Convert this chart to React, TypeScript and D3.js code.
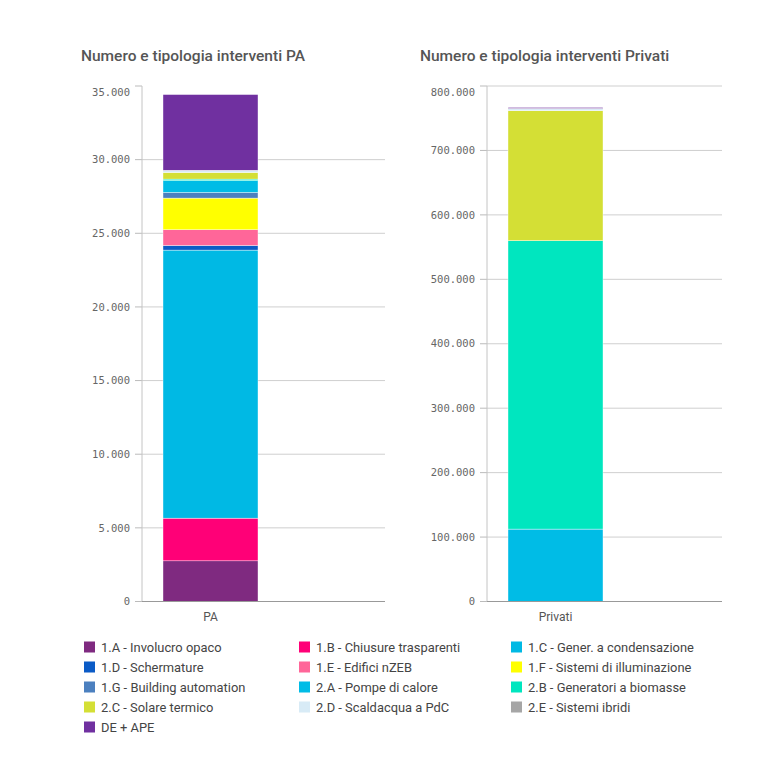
import * as d3 from "d3";

const seriesNames = [
  "1.A - Involucro opaco",
  "1.B - Chiusure trasparenti",
  "1.C - Gener. a condensazione",
  "1.D - Schermature",
  "1.E - Edifici nZEB",
  "1.F - Sistemi di illuminazione",
  "1.G - Building automation",
  "2.A - Pompe di calore",
  "2.B - Generatori a biomasse",
  "2.C - Solare termico",
  "2.D - Scaldacqua a PdC",
  "2.E - Sistemi ibridi",
  "DE + APE",
];

const seriesColors = [
  "#7f2a80", "#ff0077", "#00b9e4", "#0b5bc6", "#ff6699", "#ffff00", "#4c80bf",
  "#00bce6", "#00e6bf", "#d4df35", "#d8ebf6", "#a6a6a6", "#7030a0",
];

const paValues = [2760, 2900, 18200, 310, 1070, 2150, 380, 810, 100, 450, 130, 20, 5140];
const privatiValues = [0, 0, 0, 0, 0, 0, 0, 112400, 447600, 201600, 3200, 400, 1500];

const paTicks = [0, 5000, 10000, 15000, 20000, 25000, 30000, 35000];
const privatiTicks = [0, 100000, 200000, 300000, 400000, 500000, 600000, 700000, 800000];

const fmt = d3
  .formatLocale({ decimal: ",", thousands: ".", grouping: [3], currency: ["€", ""] })
  .format(",");

const W = 775;
const H = 769;
const plotTop = 86;
const plotBottom = 601.5;

interface StackProps {
  title: string;
  category: string;
  values: number[];
  ticks: number[];
  left: number;
  right: number;
  titleX: number;
  topGrid: boolean;
}

function StackChart({ title, category, values, ticks, left, right, titleX, topGrid }: StackProps) {
  const max = ticks[ticks.length - 1];
  const y = d3.scaleLinear([0, max], [plotBottom, plotTop]);
  const x = d3.scaleBand([category], [left + 21, left + 116]).padding(0);

  const row: Record<string, number> = {};
  seriesNames.forEach((n, i) => (row[n] = values[i]));
  const stacked = d3.stack<Record<string, number>>().keys(seriesNames)([row]);

  return (
    <g>
      <text
        x={titleX}
        y={61}
        fontFamily="Roboto, 'Open Sans', sans-serif"
        fontWeight={500}
        fontSize={15.5}
        fill="#555"
      >
        {title}
      </text>
      {ticks.map((t) => (
        <g key={t}>
          {(t > 0 && (t < max || topGrid)) && (
            <line x1={left} x2={right} y1={y(t)} y2={y(t)} stroke="#cfcfcf" />
          )}
          <line x1={left - 7} x2={left} y1={y(t)} y2={y(t)} stroke="#bbb" />
          <text
            x={left - 12}
            y={y(t) + (t === max ? 6 : 0)}
            dy="0.35em"
            textAnchor="end"
            fontFamily="'DejaVu Sans Mono', monospace"
            fontSize={10.5}
            fill="#666"
          >
            {fmt(t)}
          </text>
        </g>
      ))}
      <line x1={left} x2={left} y1={plotTop} y2={plotBottom} stroke="#c4c4c4" />
      {stacked.map((s, i) =>
        s.map((d, j) =>
          d[1] - d[0] > 0 ? (
            <rect
              key={`${i}-${j}`}
              x={x(category)}
              width={x.bandwidth()}
              y={y(d[1])}
              height={y(d[0]) - y(d[1])}
              fill={seriesColors[i]}
              stroke="#fff"
              strokeWidth={0.4}
            />
          ) : null,
        ),
      )}
      <line x1={left} x2={right} y1={plotBottom} y2={plotBottom} stroke="#999" />
      <text
        x={(x(category) ?? 0) + x.bandwidth() / 2}
        y={621}
        textAnchor="middle"
        fontFamily="Roboto, sans-serif"
        fontSize={12}
        fill="#555"
      >
        {category}
      </text>
    </g>
  );
}

export default function App() {
  const cols = [84, 299, 511];
  return (
    <svg width={W} height={H} style={{ position: "absolute", left: 0, top: 0 }}>
      <rect width={W} height={H} fill="#fff" />
      <StackChart
        title="Numero e tipologia interventi PA"
        category="PA"
        values={paValues}
        ticks={paTicks}
        left={142}
        right={385}
        titleX={81}
        topGrid={false}
      />
      <StackChart
        title="Numero e tipologia interventi Privati"
        category="Privati"
        values={privatiValues}
        ticks={privatiTicks}
        left={487}
        right={722}
        titleX={420}
        topGrid={true}
      />
      <g fontFamily="Roboto, 'Open Sans', sans-serif" fontSize={12.9} fill="#444">
        {seriesNames.map((n, i) => {
          const cx = cols[i % 3];
          const cy = 647 + Math.floor(i / 3) * 20;
          return (
            <g key={n}>
              <rect x={cx} y={cy - 5.5} width={11} height={11} fill={seriesColors[i]} />
              <text x={cx + 17} y={cy} dy="0.35em">
                {n}
              </text>
            </g>
          );
        })}
      </g>
    </svg>
  );
}
